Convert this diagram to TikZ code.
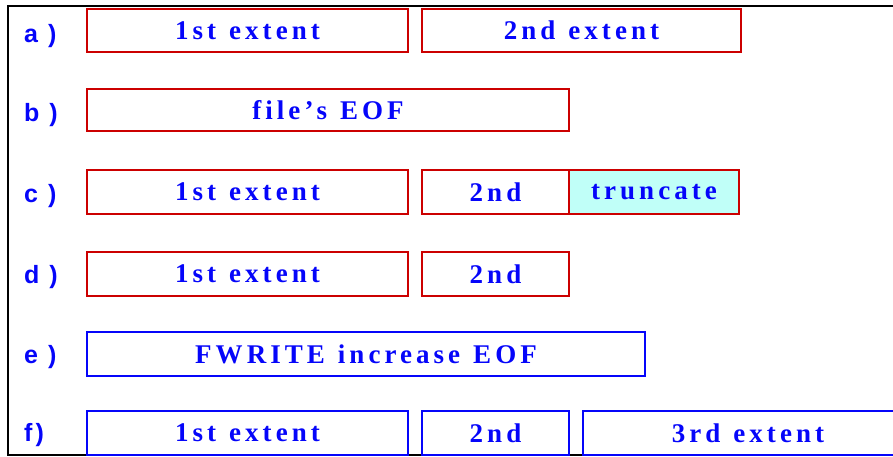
\documentclass[tikz,border=0pt]{standalone}
\usepackage{fontspec}
\usetikzlibrary{positioning}
\newfontfamily\extfont{Liberation Serif}[LetterSpace=15, WordSpace=1.2]
\newfontfamily\rowfont{Liberation Sans}[LetterSpace=12]
\definecolor{extred}{RGB}{204,0,0}
\definecolor{extblue}{RGB}{5,5,250}
\definecolor{truncfill}{RGB}{192,255,248}

\begin{document}
\begin{tikzpicture}[x=1pt, y=-1pt, node distance=14pt,
  ext/.style={draw=extred, line width=2pt, outer sep=0pt, inner sep=0pt, minimum height=44pt, text=extblue, font=\extfont\bfseries\fontsize{27}{30}\selectfont},
  newext/.style={ext, draw=extblue},
  row/.style={anchor=base west, inner sep=0pt, text=extblue, font=\rowfont\bfseries\fontsize{25}{28}\selectfont}]
\useasboundingbox (0,0) rectangle (893,456);
\draw[line width=2pt] (8,6) rectangle (930,455);
% a) two extents
\node[row] (la) at (24,42) {a )};
\node[ext, minimum width=321pt, minimum height=43pt] (a1) at (247.5,30.5) {1st extent};
\node[ext, minimum width=319pt, minimum height=43pt, right=of a1] (a2) {2nd extent};
% b) end of file
\node[row] (lb) at (24,121) {b )};
\node[ext, minimum width=482pt, minimum height=42pt] (b1) at (328,110) {file’s EOF};
% c) truncate the tail
\node[row] (lc) at (24,202) {c )};
\node[ext, minimum width=321pt] (c1) at (247.5,192) {1st extent};
\node[ext, minimum width=147pt, right=of c1] (c2) {2nd};
\node[ext, minimum width=170pt, fill=truncfill, right=0pt of c2] (c3) {truncate};
% d) after truncation
\node[row] (ld) at (24,283) {d )};
\node[ext, minimum width=321pt] (d1) at (247.5,274) {1st extent};
\node[ext, minimum width=147pt, right=of d1] (d2) {2nd};
% e) write past EOF
\node[row] (le) at (24,363) {e )};
\node[newext, minimum width=558pt] (e1) at (366,354) {FWRITE increase EOF};
% f) new third extent
\node[row] (lf) at (24,441) {f)};
\node[newext, minimum width=321pt] (f1) at (247.5,433) {1st extent};
\node[newext, minimum width=147pt, right=of f1] (f2) {2nd};
\node[newext, minimum width=330pt, right=of f2] (f3) {3rd extent};
\end{tikzpicture}
\end{document}
